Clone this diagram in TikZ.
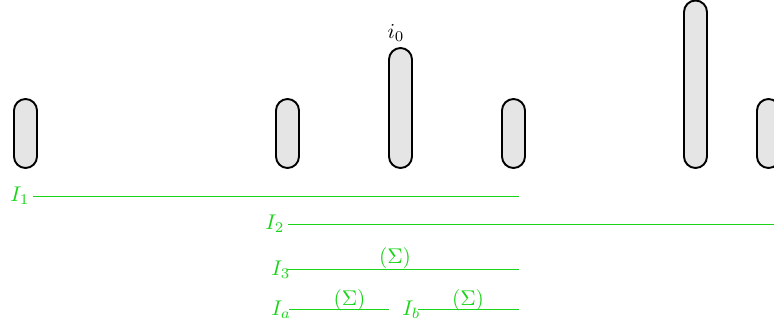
\documentclass[tikz,border=0pt]{standalone}
\definecolor{igreen}{RGB}{25,212,25}
\begin{document}
\begin{tikzpicture}[x=0.4695pt,y=-0.4695pt,
  bar/.style={draw=black,fill=black!10,line width=0.9pt,rounded corners=5.4pt},
  iline/.style={draw=igreen,line width=0.42pt},
  lab/.style={text=igreen,inner sep=0pt,anchor=base west},
  sig/.style={text=igreen,inner sep=0pt,anchor=base}]
\useasboundingbox (0,0) rectangle (774,330);
% bars
\draw[bar] (14,99) rectangle (37,168);
\draw[bar] (276,99) rectangle (299,168);
\draw[bar] (389,48) rectangle (412,168);
\draw[bar] (502,99) rectangle (525,168);
\draw[bar] (684,0.5) rectangle (707,168);
\draw[bar] (757,99) rectangle (780,168);
\node[inner sep=0pt,anchor=base] (i0) at (396,38) {$i_0$};
% intervals
\coordinate (l1s) at (33,196); \coordinate (l1e) at (519,196);
\coordinate (l2s) at (288,224); \coordinate (l2e) at (774,224);
\coordinate (l3s) at (287,269); \coordinate (l3e) at (519,269);
\coordinate (las) at (289,309); \coordinate (lae) at (389,309);
\coordinate (lbs) at (418,309); \coordinate (lbe) at (519,309);
\draw[iline] (l1s) -- (l1e);
\draw[iline] (l2s) -- (l2e);
\draw[iline] (l3s) -- (l3e);
\draw[iline] (las) -- (lae);
\draw[iline] (lbs) -- (lbe);
\node[lab] (t1) at (10,201) {$I_1$};
\node[lab] (t2) at (265,229) {$I_2$};
\node[lab] (t3) at (271,275) {$I_3$};
\node[lab] (ta) at (271,315) {$I_a$};
\node[lab] (tb) at (402,315) {$I_b$};
\node[sig] (s3) at (395,263) {$(\Sigma)$};
\node[sig] (sa) at (349.5,305) {$(\Sigma)$};
\node[sig] (sb) at (468,305) {$(\Sigma)$};
\end{tikzpicture}
\end{document}
